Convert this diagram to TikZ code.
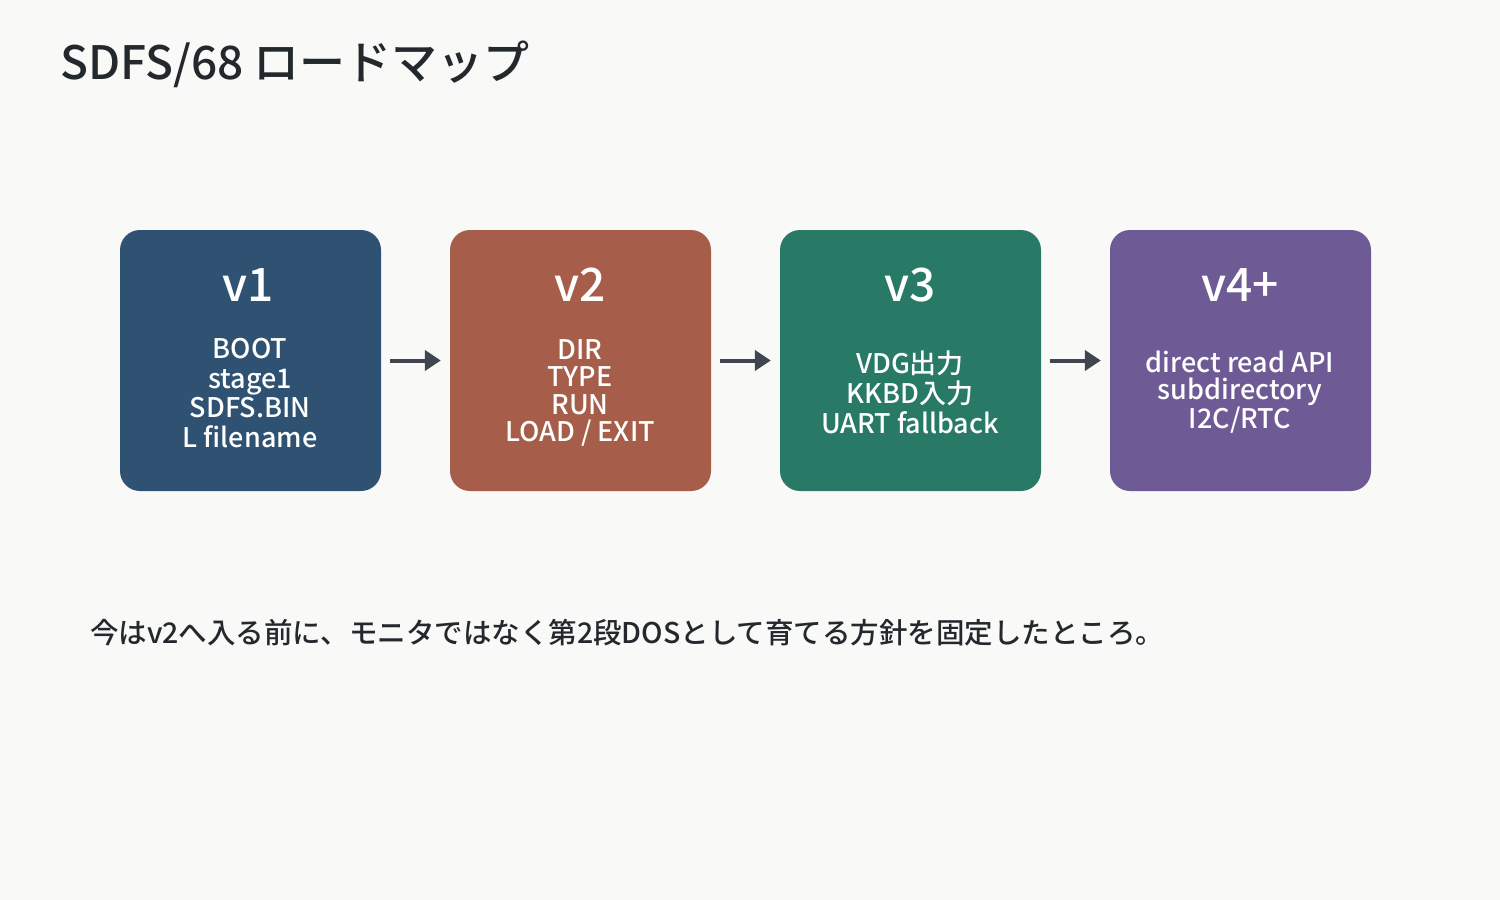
\documentclass[tikz,border=0pt]{standalone}
\usepackage{fontspec}
\setmainfont{Noto Sans CJK JP}
\newfontfamily\medfont{Noto Sans CJK JP Medium}
\usetikzlibrary{arrows.meta}
\definecolor{bg}{HTML}{F9F9F7}
\definecolor{ink}{HTML}{23282D}
\definecolor{arr}{HTML}{3F4650}
\definecolor{cA}{HTML}{2F5272}
\definecolor{cB}{HTML}{A65E4A}
\definecolor{cC}{HTML}{287A66}
\definecolor{cD}{HTML}{6E5B95}
\tikzset{
  card/.style={rounded corners=20pt, minimum width=261pt, minimum height=261pt, inner sep=0pt, draw=none},
  ver/.style={text=white, font=\fontsize{46}{50}\selectfont\medfont, anchor=center, inner sep=0pt},
  body/.style={text=white, align=center, anchor=center, inner sep=0pt},
  flow/.style={draw=arr, line width=4pt, -{Triangle[length=16pt,width=20pt]}, shorten <=9pt, shorten >=9pt},
}
\begin{document}
\begin{tikzpicture}[x=1pt,y=-1pt]
\fill[bg] (0,0) rectangle (1500,900);
\useasboundingbox (0,0) rectangle (1500,900);
\node[anchor=base west, inner sep=0pt, text=ink, font=\fontsize{46}{48}\selectfont\medfont] (title) at (60,79) {SDFS/68 ロードマップ};

\node[card, fill=cA] (b1) at (250.5,360.5) {};
\node[card, fill=cB] (b2) at (580.5,360.5) {};
\node[card, fill=cC] (b3) at (910.5,360.5) {};
\node[card, fill=cD] (b4) at (1240.5,360.5) {};

\node[ver] (v1) at (248,285) {v1};
\node[ver] (v2) at (580,285) {v2};
\node[ver] (v3) at (910,285) {v3};
\node[ver] (v4) at (1240,285) {v4+};

\node[body, font=\fontsize{27}{29.5}\selectfont\medfont] (t1) at (250,393) {BOOT\\stage1\\SDFS.BIN\\L filename};
\node[body, font=\fontsize{27}{27.3}\selectfont\medfont] (t2) at (580,393) {DIR\\TYPE\\RUN\\LOAD / EXIT};
\node[body, font=\fontsize{27}{30}\selectfont\medfont] (t3) at (910,392) {VDG出力\\KKBD入力\\UART fallback};
\node[body, font=\fontsize{27}{27.5}\selectfont\medfont] (t4) at (1240,392) {direct read API\\subdirectory\\I2C/RTC};

\draw[flow] (b1.east) -- (b2.west);
\draw[flow] (b2.east) -- (b3.west);
\draw[flow] (b3.east) -- (b4.west);

\node[anchor=base west, inner sep=0pt, text=ink, font=\fontsize{28.5}{30}\selectfont\medfont] (note) at (90,643) {今はv2へ入る前に、モニタではなく第2段DOSとして育てる方針を固定したところ。};
\end{tikzpicture}
\end{document}
